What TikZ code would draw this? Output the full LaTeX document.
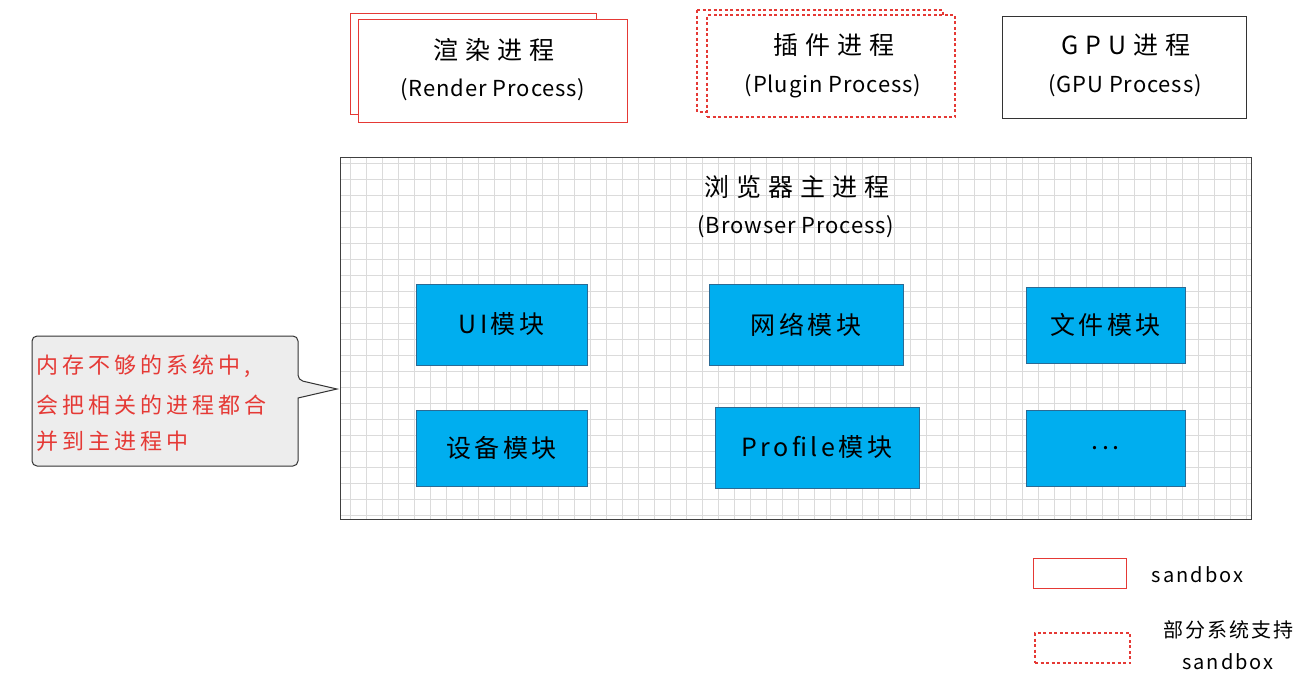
\documentclass[tikz,border=0pt]{standalone}
\usepackage{fontspec}
\setmainfont{Noto Sans CJK SC}
\definecolor{sbred}{HTML}{E53935}
\definecolor{modblue}{HTML}{00AEEF}
\definecolor{modedge}{HTML}{2B6A94}
\begin{document}
\begin{tikzpicture}[x=1pt,y=-1pt,line width=1pt,
  sandbox/.style={draw=sbred,fill=white,inner sep=0pt},
  partbox/.style={sandbox,dashed,dash pattern=on 3pt off 2.5pt,line width=1.4pt},
  module/.style={draw=modedge,fill=modblue,inner sep=0pt,font=\fontsize{25}{29}\selectfont\addfontfeatures{LetterSpace=14}},
  title/.style={font=\fontsize{25}{29}\selectfont\addfontfeatures{LetterSpace=28}},
  sub/.style={font=\fontsize{22}{26}\selectfont\addfontfeatures{LetterSpace=4}},
  legtext/.style={font=\fontsize{20}{24}\selectfont\addfontfeatures{LetterSpace=10}},
  note/.style={anchor=west,text=sbred,font=\fontsize{22}{26}\selectfont\addfontfeatures{LetterSpace=18}}]
\useasboundingbox (0,0) rectangle (1316,691);
% top row of processes
\draw[sbred] (350,13) rectangle (596,114);
\node[sandbox,minimum width=269pt,minimum height=103pt] (render) at (492.5,70.5) {};
\node[title] (renderT) at (494,50) {渲染进程};
\node[sub] (renderS) at (493,90) {(Render Process)};
\draw[sbred,dashed,dash pattern=on 3pt off 2.5pt,line width=1.4pt] (697,10) -- (943,10) -- (943,15) (697,10) -- (697,112) -- (707,112);
\node[partbox,minimum width=248pt,minimum height=102pt] (plugin) at (831,66) {};
\node[title] (pluginT) at (834,45) {插件进程};
\node[sub] (pluginS) at (833,86) {(Plugin Process)};
\node[draw=black!80,fill=white,minimum width=244pt,minimum height=102pt] (gpu) at (1124,67) {};
\node[title] (gpuT) at (1126,45) {GPU进程};
\node[sub] (gpuS) at (1125,86) {(GPU Process)};
% browser process with grid
\begin{scope}
\clip (340,157) rectangle (1251,519);
\draw[black!14,line width=.7pt,step=16pt,xshift=14pt,yshift=-3pt] (300,120) grid (1260,530);
\end{scope}
\node[draw=black!75,minimum width=911pt,minimum height=362pt,inner sep=0pt] (browser) at (795.5,338) {};
\node[title] (browserT) at (797,187) {浏览器主进程};
\node[sub] (browserS) at (796,227) {(Browser Process)};
\node[module,minimum width=171pt,minimum height=81pt] (ui) at (501.5,324.5) {UI模块};
\node[module,minimum width=194pt,minimum height=81pt] (net) at (806,324.5) {网络模块};
\node[module,minimum width=159pt,minimum height=76pt] (file) at (1105.5,325) {文件模块};
\node[module,minimum width=171pt,minimum height=76pt] (dev) at (501.5,448) {设备模块};
\node[module,minimum width=204pt,minimum height=81pt] (prof) at (817,447.5) {Profile模块};
\node[module,minimum width=159pt,minimum height=76pt] (more) at (1105.5,448) {...};
% callout
\draw[black!80,fill=black!7,rounded corners=5pt] (32,336) -- (298,336) -- (298,380) [sharp corners] -- (337,389) -- (298,398) [rounded corners=5pt] -- (298,466) -- (32,466) -- cycle;
\node[note] (n1) at (33,366) {内存不够的系统中,};
\node[note] (n2) at (33,405) {会把相关的进程都合};
\node[note] (n3) at (33,441) {并到主进程中};
% legend
\node[sandbox,minimum width=93pt,minimum height=30pt] (legA) at (1079.5,573) {};
\node[legtext,anchor=west] (legAT) at (1148,575) {sandbox};
\node[partbox,minimum width=95pt,minimum height=30pt] (legB) at (1082.5,648) {};
\node[legtext] (legBT) at (1228,630) {部分系统支持};
\node[legtext] (legBS) at (1228,662) {sandbox};
\end{tikzpicture}
\end{document}
